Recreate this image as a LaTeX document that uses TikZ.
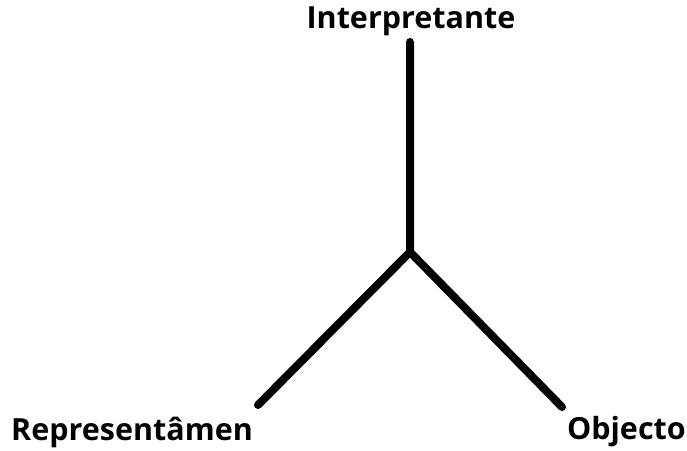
\documentclass[tikz,border=0pt]{standalone}
\usepackage{fontspec}
\setmainfont{Open Sans}[BoldFont={* Bold}]
\begin{document}
\begin{tikzpicture}[x=1pt,y=-1pt,
  lbl/.style={font=\fontsize{30.5}{33}\selectfont\bfseries, inner sep=0pt},
  arm/.style={line width=8pt, line cap=round, line join=round}]
\useasboundingbox (0,0) rectangle (687,450);
\coordinate (c) at (410,252);
\coordinate (top) at (410,42);
\coordinate (left) at (258,405);
\coordinate (right) at (562,407);
\node[lbl] (interp) at (411,21) {Interpretante};
\node[lbl, anchor=west] (repr) at (11,432) {Representâmen};
\node[lbl, anchor=east] (obj) at (686,432) {Objecto};
\draw[arm] (top) -- (c) -- (left);
\draw[arm] (c) -- (right);
\end{tikzpicture}
\end{document}
